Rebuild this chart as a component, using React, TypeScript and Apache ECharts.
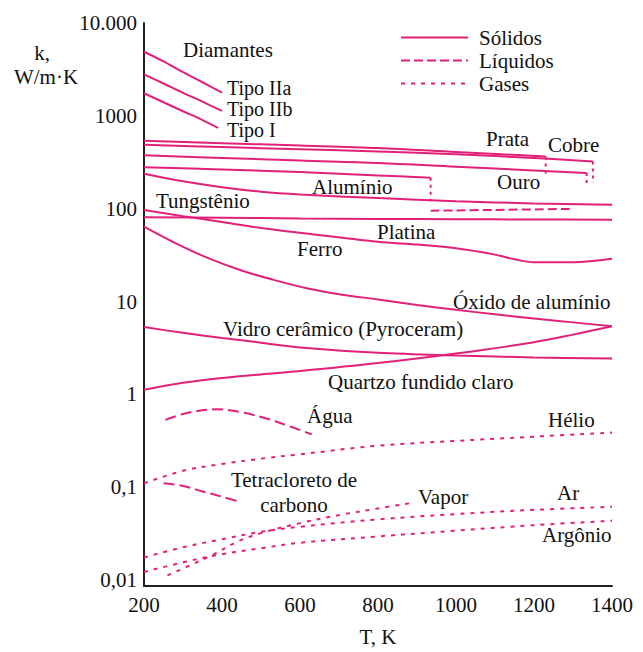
import React, { useEffect, useRef } from "react";
import * as echarts from "echarts";

// ---------- data (T in K, k in W/m·K) ----------
const xTicks = [200, 400, 600, 800, 1000, 1200, 1400];
const yTickLabels: Record<string, string> = {
  "-2": "0,01", "-1": "0,1", "0": "1", "1": "10", "2": "100", "3": "1000", "4": "10.000",
};

const diamIIaT = [200, 250, 300, 350, 400];
const diamIIaK = [4900, 3850, 2950, 2300, 1780];
const diamIIbT = [200, 250, 300, 350, 400];
const diamIIbK = [2800, 2230, 1770, 1420, 1130];
const diamIT = [200, 250, 300, 350, 390];
const diamIK = [1750, 1400, 1120, 900, 740];

const silverT = [200, 400, 600, 800, 1000, 1230];
const silverK = [538, 507, 479, 450, 408, 365];
const silverMeltT = [1230, 1230];
const silverMeltK = [365, 220];

const copperT = [200, 400, 600, 800, 1000, 1200, 1351];
const copperK = [488, 461, 437, 413, 385, 352, 323];
const copperMeltT = [1351, 1351];
const copperMeltK = [323, 190];

const goldT = [200, 400, 600, 800, 1000, 1200, 1335];
const goldK = [376, 352, 330, 311, 283, 258, 242];
const goldMeltT = [1335, 1335];
const goldMeltK = [242, 174];

const aluminumT = [200, 400, 600, 800, 935];
const aluminumK = [280, 265, 248, 228, 215];
const aluminumMeltT = [935, 935];
const aluminumMeltK = [215, 120];
const aluminumLiqT = [935, 1100, 1300];
const aluminumLiqK = [95, 97, 99.5];

const tungstenT = [200, 300, 400, 500, 600, 800, 1000, 1200, 1400];
const tungstenK = [238, 197, 170, 152, 142, 130, 120, 114, 110];

const platinumT = [200, 400, 600, 800, 1000, 1200, 1400];
const platinumK = [81, 80, 78.5, 77.5, 77, 76.5, 76];

const ironT = [200, 300, 400, 500, 600, 800, 900, 1000, 1100, 1150, 1200, 1300, 1400];
const ironK = [97, 83, 72, 62, 55, 44, 41, 37.5, 32, 28.5, 26.5, 26.5, 28.8];

const aluminaT = [200, 275, 360, 450, 530, 620, 700, 800, 900, 1000, 1100, 1200, 1300, 1400];
const aluminaK = [64, 43.7, 29.9, 21.6, 17.2, 13.8, 12.0, 10.5, 9.16, 8.13, 7.28, 6.56, 5.96, 5.42];

const pyroceramT = [200, 300, 400, 500, 600, 800, 1000, 1200, 1400];
const pyroceramK = [5.3, 4.6, 4.05, 3.6, 3.2, 2.8, 2.62, 2.5, 2.43];

const quartzT = [200, 300, 400, 500, 600, 800, 1000, 1200, 1300, 1400];
const quartzK = [1.12, 1.33, 1.5, 1.64, 1.78, 2.17, 2.75, 3.65, 4.4, 5.4];

const waterT = [255, 310, 386, 450, 514, 575, 630];
const waterK = [0.53, 0.63, 0.69, 0.64, 0.55, 0.45, 0.37];

const cclT = [250, 300, 350, 400, 446];
const cclK = [0.11, 0.103, 0.09, 0.079, 0.0695];

const heliumT = [200, 300, 400, 500, 600, 800, 1000, 1200, 1400];
const heliumK = [0.11, 0.15, 0.178, 0.203, 0.226, 0.28, 0.315, 0.35, 0.387];

const steamT = [260, 320, 380, 440, 500, 600, 700, 800, 890];
const steamK = [0.0112, 0.0145, 0.019, 0.026, 0.032, 0.041, 0.05, 0.059, 0.068];

const airT = [200, 300, 400, 500, 600, 800, 1000, 1200, 1400];
const airK = [0.0175, 0.0225, 0.0275, 0.033, 0.0375, 0.045, 0.0513, 0.057, 0.0616];

const argonT = [200, 300, 400, 500, 600, 800, 1000, 1200, 1400];
const argonK = [0.0122, 0.0155, 0.019, 0.022, 0.0252, 0.0295, 0.034, 0.039, 0.0435];

// ---------- styling ----------
const COLOR = "#E2207A";
const FONT = "'Liberation Serif', 'Times New Roman', serif";
const FS = 21;
const TXT = "#111";
const SOLID = "Sólidos";
const LIQ = "Líquidos";
const GAS = "Gases";
const MELT = "Fusão";

const pairs = (t: number[], k: number[]) => t.map((v, i) => [v, k[i]]);

function ln(name: string, t: number[], k: number[], type: any, smooth: number | boolean = 0.35) {
  return {
    type: "line",
    name,
    data: pairs(t, k),
    showSymbol: false,
    symbol: "none",
    smooth,
    lineStyle: { color: COLOR, width: 2, type },
    itemStyle: { color: COLOR },
    emphasis: { disabled: true },
  };
}

const labels: [string, number, number, string?, number?][] = [
  ["Diamantes", 183, 50],
  ["Tipo IIa", 227, 88, "left", 20],
  ["Tipo IIb", 227, 109, "left", 20],
  ["Tipo I", 227, 130, "left", 20],
  ["Prata", 486, 139],
  ["Cobre", 548, 145],
  ["Ouro", 497, 182],
  ["Alumínio", 312, 187],
  ["Tungstênio", 156, 201],
  ["Platina", 377, 232],
  ["Ferro", 297, 249],
  ["Óxido de alumínio", 453, 302],
  ["Vidro cerâmico (Pyroceram)", 223, 329],
  ["Quartzo fundido claro", 328, 382],
  ["Água", 307, 416],
  ["Hélio", 548, 420],
  ["Tetracloreto de", 294, 480, "center"],
  ["carbono", 294, 505, "center"],
  ["Vapor", 418, 497],
  ["Ar", 557, 493],
  ["Argônio", 542, 535],
  ["k,", 42, 53, "center"],
  ["W/m·K", 46, 77, "center"],
];

export default function App() {
  const ref = useRef<HTMLDivElement>(null);
  useEffect(() => {
    if (!ref.current) return;
    const chart = echarts.init(ref.current, null, { renderer: "svg" });
    const series: any[] = [
      ln(SOLID, diamIIaT, diamIIaK, "solid"),
      ln(SOLID, diamIIbT, diamIIbK, "solid"),
      ln(SOLID, diamIT, diamIK, "solid"),
      ln(SOLID, silverT, silverK, "solid"),
      ln(SOLID, copperT, copperK, "solid"),
      ln(SOLID, goldT, goldK, "solid"),
      ln(SOLID, aluminumT, aluminumK, "solid"),
      ln(SOLID, tungstenT, tungstenK, "solid"),
      ln(SOLID, platinumT, platinumK, "solid"),
      ln(SOLID, ironT, ironK, "solid"),
      ln(SOLID, aluminaT, aluminaK, "solid"),
      ln(SOLID, pyroceramT, pyroceramK, "solid"),
      ln(SOLID, quartzT, quartzK, "solid"),
      ln(LIQ, aluminumLiqT, aluminumLiqK, [9, 4]),
      ln(LIQ, waterT, waterK, [11, 5]),
      ln(LIQ, cclT, cclK, [11, 5]),
      ln(GAS, heliumT, heliumK, [4, 6]),
      ln(GAS, steamT, steamK, [4, 6]),
      ln(GAS, airT, airK, [4, 6]),
      ln(GAS, argonT, argonK, [4, 6]),
      ln(MELT, silverMeltT, silverMeltK, [3, 4], false),
      ln(MELT, copperMeltT, copperMeltK, [3, 4], false),
      ln(MELT, goldMeltT, goldMeltK, [3, 4], false),
      ln(MELT, aluminumMeltT, aluminumMeltK, [3, 4], false),
    ];
    chart.setOption({
      animation: false,
      backgroundColor: "#fff",
      textStyle: { fontFamily: FONT },
      grid: { left: 144, right: 31, top: 23, bottom: 65, containLabel: false },
      legend: {
        data: [SOLID, LIQ, GAS],
        orient: "vertical",
        left: 400,
        top: 27,
        padding: 0,
        itemWidth: 67,
        itemHeight: 12,
        itemGap: 2,
        selectedMode: false,
        itemStyle: { opacity: 0 },
        textStyle: { fontSize: FS, fontFamily: FONT, color: TXT, lineHeight: 20, padding: [0, 0, 0, 6] },
      },
      xAxis: {
        type: "value",
        min: xTicks[0],
        max: xTicks[xTicks.length - 1],
        interval: 200,
        name: "T, K",
        nameLocation: "middle",
        nameGap: 40,
        nameTextStyle: { fontSize: FS, fontFamily: FONT, color: TXT },
        axisLine: { lineStyle: { color: "#222", width: 2 } },
        axisTick: { show: false },
        splitLine: { show: false },
        axisLabel: {
          fontSize: FS,
          fontFamily: FONT,
          color: TXT,
          margin: 8,
          formatter: (v: number) => String(v),
        },
      },
      yAxis: {
        type: "log",
        logBase: 10,
        min: 0.00862,
        max: 10000,
        axisLine: { show: true, lineStyle: { color: "#222", width: 2 } },
        axisTick: { show: false },
        splitLine: { show: false },
        axisLabel: {
          fontSize: FS,
          fontFamily: FONT,
          color: TXT,
          margin: 7,
          showMinLabel: true,
          showMaxLabel: true,
          formatter: (v: number) => {
            const e = Math.log10(v);
            const r = Math.round(e);
            if (Math.abs(e - r) > 1e-6) return "";
            return yTickLabels[String(r)] ?? "";
          },
        },
      },
      graphic: labels.map(([text, x, y, align, size]) => ({
        type: "text",
        x,
        y,
        silent: true,
        style: {
          text,
          fill: TXT,
          fontSize: size || FS,
          fontFamily: FONT,
          align: align || "left",
          verticalAlign: "middle",
        },
      })),
      series,
    });
    return () => chart.dispose();
  }, []);
  return (
    <div
      ref={ref}
      style={{ position: "fixed", left: 0, top: 0, width: 643, height: 652, background: "#fff" }}
    />
  );
}
